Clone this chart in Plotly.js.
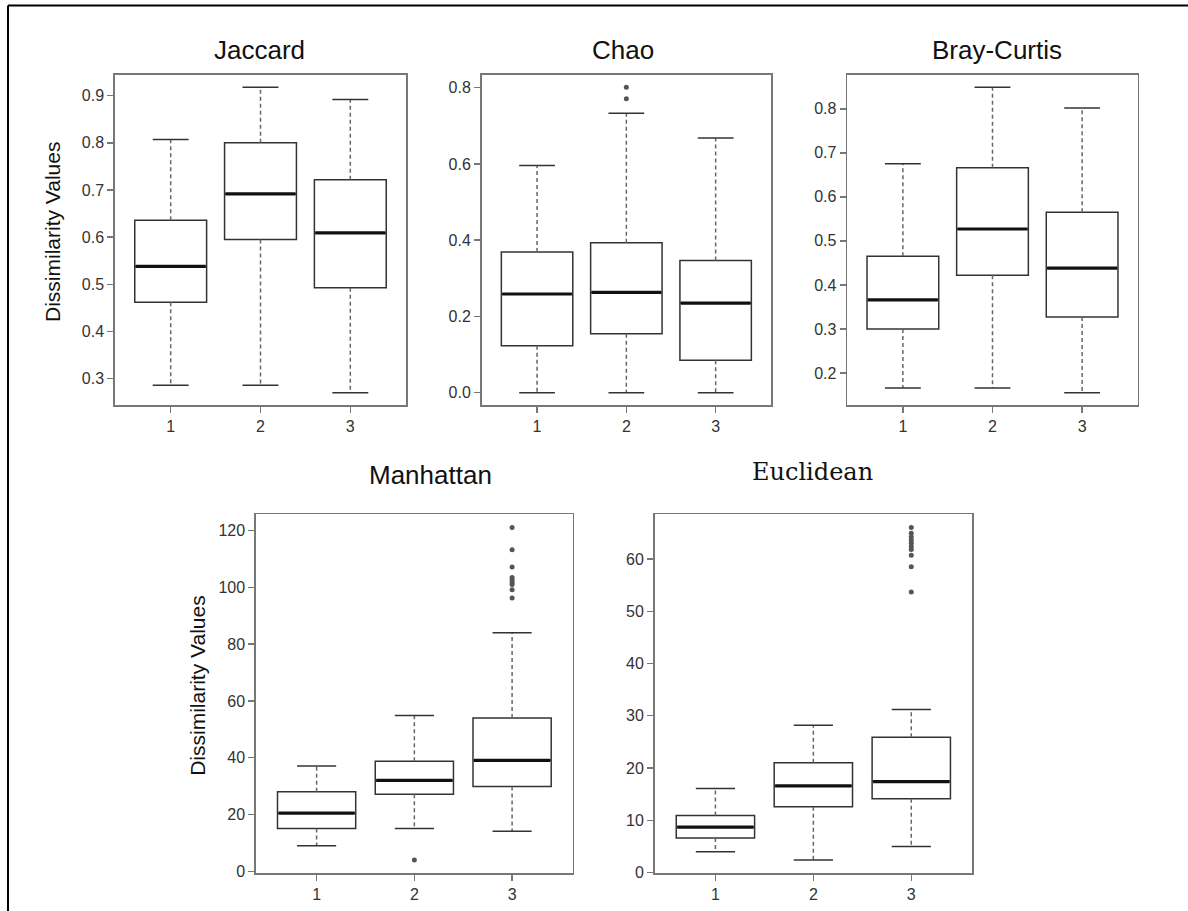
<!DOCTYPE html>
<html><head><meta charset="utf-8">
<script src="https://cdn.plot.ly/plotly-3.0.1.min.js"></script>
<style>html,body{margin:0;padding:0;background:#fff}#chart{width:1188px;height:911px}</style>
</head><body><div id="chart"></div>
<script>
// ---------- data ----------
const groups = [1, 2, 3];
const groupLabels = ["1", "2", "3"];
const panelTitles = ["Jaccard", "Chao", "Bray-Curtis", "Manhattan", "Euclidean"];
const yAxisTitle = "Dissimilarity Values";

const jaccardLower  = [0.286, 0.286, 0.270];
const jaccardQ1     = [0.462, 0.595, 0.493];
const jaccardMedian = [0.538, 0.692, 0.609];
const jaccardQ3     = [0.636, 0.800, 0.722];
const jaccardUpper  = [0.807, 0.918, 0.892];
const jaccardOutliers = [[], [], []];
const jaccardTicks = [0.3, 0.4, 0.5, 0.6, 0.7, 0.8, 0.9];

const chaoLower  = [0.000, 0.000, 0.000];
const chaoQ1     = [0.123, 0.155, 0.085];
const chaoMedian = [0.259, 0.263, 0.235];
const chaoQ3     = [0.369, 0.393, 0.347];
const chaoUpper  = [0.596, 0.733, 0.668];
const chaoOutliers = [[], [0.801, 0.771], []];
const chaoTicks = [0.0, 0.2, 0.4, 0.6, 0.8];

const brayLower  = [0.166, 0.166, 0.155];
const brayQ1     = [0.300, 0.422, 0.327];
const brayMedian = [0.366, 0.527, 0.438];
const brayQ3     = [0.465, 0.666, 0.565];
const brayUpper  = [0.675, 0.849, 0.802];
const brayOutliers = [[], [], []];
const brayTicks = [0.2, 0.3, 0.4, 0.5, 0.6, 0.7, 0.8];

const manhattanLower  = [9.0, 15.1, 14.1];
const manhattanQ1     = [15.1, 27.1, 29.9];
const manhattanMedian = [20.5, 32.0, 39.1];
const manhattanQ3     = [28.0, 38.8, 54.0];
const manhattanUpper  = [37.1, 54.9, 84.0];
const manhattanOutliers = [[], [4.0], [121.0, 113.2, 107.1, 103.4, 102.6, 101.8, 101.0, 99.1, 96.2]];
const manhattanTicks = [0, 20, 40, 60, 80, 100, 120];

const euclideanLower  = [4.0, 2.4, 5.0];
const euclideanQ1     = [6.6, 12.6, 14.1];
const euclideanMedian = [8.7, 16.6, 17.4];
const euclideanQ3     = [10.9, 21.0, 25.9];
const euclideanUpper  = [16.1, 28.2, 31.2];
const euclideanOutliers = [[], [], [66.0, 64.9, 64.2, 63.6, 63.0, 62.4, 61.8, 60.7, 58.5, 53.7]];
const euclideanTicks = [0, 10, 20, 30, 40, 50, 60];

// ---------- styles / layout geometry ----------
const W = 1188, H = 911;
const panels = [
  {title: panelTitles[0], lower: jaccardLower, q1: jaccardQ1, med: jaccardMedian, q3: jaccardQ3, upper: jaccardUpper, out: jaccardOutliers, ticks: jaccardTicks, fmt: ".1f",
   px: [115, 406], py: [75, 405], tx: 259, ty: 50, ylab: 52},
  {title: panelTitles[1], lower: chaoLower, q1: chaoQ1, med: chaoMedian, q3: chaoQ3, upper: chaoUpper, out: chaoOutliers, ticks: chaoTicks, fmt: ".1f",
   px: [481.7, 771], py: [75, 405], tx: 623, ty: 50},
  {title: panelTitles[2], lower: brayLower, q1: brayQ1, med: brayMedian, q3: brayQ3, upper: brayUpper, out: brayOutliers, ticks: brayTicks, fmt: ".1f",
   px: [847.3, 1137.7], py: [75, 405], tx: 997, ty: 50},
  {title: panelTitles[3], lower: manhattanLower, q1: manhattanQ1, med: manhattanMedian, q3: manhattanQ3, upper: manhattanUpper, out: manhattanOutliers, ticks: manhattanTicks, fmt: "d",
   px: [256, 572.7], py: [514.3, 873.3], tx: 430, ty: 475, ylab: 198},
  {title: panelTitles[4], lower: euclideanLower, q1: euclideanQ1, med: euclideanMedian, q3: euclideanQ3, upper: euclideanUpper, out: euclideanOutliers, ticks: euclideanTicks, fmt: "d",
   px: [654.7, 972], py: [514.3, 873.3], tx: 812, ty: 472, serif: true}
];

const sans = "Liberation Sans, Arial, Helvetica, sans-serif";
const boxHalf = 0.4, capHalf = 0.2;
const frameColor = "#777777", boxColor = "#333333", tickColor = "#333333";

const traces = [];
const layout = {
  width: W, height: H, margin: {l: 0, r: 0, t: 0, b: 0},
  paper_bgcolor: "#fff", plot_bgcolor: "#fff", showlegend: false,
  annotations: [], shapes: []
};

panels.forEach((p, i) => {
  const n = i + 1;
  const xa = n === 1 ? "x" : "x" + n, ya = n === 1 ? "y" : "y" + n;
  const xk = n === 1 ? "xaxis" : "xaxis" + n, yk = n === 1 ? "yaxis" : "yaxis" + n;

  // R-style range: data extent +/- 4%
  const all = [].concat(p.lower, p.upper, ...p.out);
  const mn = Math.min(...all), mx = Math.max(...all), pad = 0.04 * (mx - mn);

  // box body
  traces.push({type: "box", x: groups, q1: p.q1, median: p.med, q3: p.q3,
    lowerfence: p.q1, upperfence: p.q3, width: 2 * boxHalf, whiskerwidth: 0,
    boxpoints: false, fillcolor: "#ffffff", line: {color: boxColor, width: 1.5},
    xaxis: xa, yaxis: ya, hoverinfo: "skip"});

  const wx = [], wy = [], cx = [], cy = [], mxs = [], mys = [], ox = [], oy = [];
  groups.forEach((g, k) => {
    wx.push(g, g, null, g, g, null);
    wy.push(p.q3[k], p.upper[k], null, p.q1[k], p.lower[k], null);
    cx.push(g - capHalf, g + capHalf, null, g - capHalf, g + capHalf, null);
    cy.push(p.upper[k], p.upper[k], null, p.lower[k], p.lower[k], null);
    mxs.push(g - boxHalf + 0.01, g + boxHalf - 0.01, null);
    mys.push(p.med[k], p.med[k], null);
    p.out[k].forEach(v => { ox.push(g); oy.push(v); });
  });
  // dashed whiskers
  traces.push({type: "scatter", mode: "lines", x: wx, y: wy, xaxis: xa, yaxis: ya,
    line: {color: "#666", width: 1.5, dash: "4px,3px"}, hoverinfo: "skip", connectgaps: false});
  // caps
  traces.push({type: "scatter", mode: "lines", x: cx, y: cy, xaxis: xa, yaxis: ya,
    line: {color: boxColor, width: 1.5}, hoverinfo: "skip"});
  // medians
  traces.push({type: "scatter", mode: "lines", x: mxs, y: mys, xaxis: xa, yaxis: ya,
    line: {color: "#111", width: 3.2}, hoverinfo: "skip"});
  // outliers
  if (ox.length) traces.push({type: "scatter", mode: "markers", x: ox, y: oy, xaxis: xa, yaxis: ya,
    marker: {color: "#555", size: 5}, hoverinfo: "skip"});

  layout[xk] = {domain: [p.px[0] / W, p.px[1] / W], anchor: ya, range: [0.38, 3.62],
    tickmode: "array", tickvals: groups, ticktext: groupLabels,
    ticks: "outside", ticklen: 6, tickcolor: frameColor, tickwidth: 1.4,
    showline: true, mirror: true, linecolor: frameColor, linewidth: 1.7,
    showgrid: false, zeroline: false, fixedrange: true,
    tickfont: {family: sans, size: 16, color: tickColor}};
  layout[yk] = {domain: [1 - p.py[1] / H, 1 - p.py[0] / H], anchor: xa, range: [mn - pad, mx + pad],
    tickmode: "array", tickvals: p.ticks, tickformat: p.fmt,
    ticks: "outside", ticklen: 6, tickcolor: frameColor, tickwidth: 1.4,
    showline: true, mirror: true, linecolor: frameColor, linewidth: 1.7,
    showgrid: false, zeroline: false, fixedrange: true,
    tickfont: {family: sans, size: 16, color: tickColor}};

  layout.annotations.push({text: p.title, xref: "paper", yref: "paper",
    x: p.tx / W, y: 1 - p.ty / H, xanchor: "center", yanchor: "middle", showarrow: false,
    font: p.serif ? {family: "DejaVu Serif, serif", size: 24, color: "#111"}
                  : {family: sans, size: 26, color: "#111"}});
  if (p.ylab) {
    layout.annotations.push({text: yAxisTitle, xref: "paper", yref: "paper",
      x: p.ylab / W, y: 1 - ((p.py[0] + p.py[1]) / 2 - 8) / H, xanchor: "center", yanchor: "middle",
      textangle: -90, showarrow: false, font: {family: sans, size: 21, color: "#111"}});
  }
});

// outer frame (top and left edges)
layout.shapes.push({type: "line", xref: "paper", yref: "paper", x0: 8 / W, x1: 8 / W, y0: 0, y1: 1 - 5.5 / H,
  line: {color: "#000", width: 2}});
layout.shapes.push({type: "line", xref: "paper", yref: "paper", x0: 8 / W, x1: 1, y0: 1 - 5.5 / H, y1: 1 - 5.5 / H,
  line: {color: "#000", width: 2}});

Plotly.newPlot("chart", traces, layout, {displayModeBar: false, staticPlot: true});
</script>
</body></html>
